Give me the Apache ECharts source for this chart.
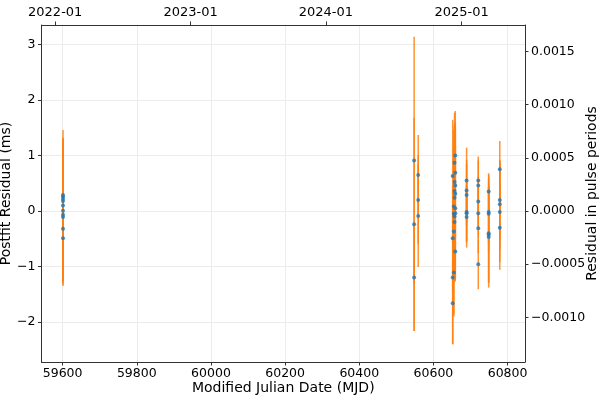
<!DOCTYPE html>
<html>
<head>
<meta charset="utf-8">
<script src="https://cdn.jsdelivr.net/npm/echarts@6/dist/echarts.min.js"></script>
<style>html,body{margin:0;padding:0;background:#fff}#c{width:600px;height:400px}</style>
</head>
<body>
<div id="c"></div>
<script>
// TOA epochs (MJD), postfit residuals (ms), uncertainties (ms)
const mjd = [
  59601,59601,59601,59601,59601,59601,59601,59601,59601,59601,
  60548,60548,60548,
  60559,60559,60559,
  60652,60652,60652,60652,
  60655,60655,60655,60655,
  60657,60657,60657,60657,60657,60657,
  60659,60659,60659,60659,60659,60659,60659,
  60689.5,60689.5,60689.5,60689.5,60689.5,60689.5,
  60721,60721,60721,60721,60721,60721,
  60749,60749,60749,60749,60749,60749,
  60779,60779,60779,60779,60779
];
const resid = [
  0.29,0.26,0.22,0.18,0.10,0.005,-0.07,-0.11,-0.32,-0.49,
  0.91,-0.24,-1.20,
  0.65,0.20,-0.09,
  0.63,-0.49,-1.20,-1.66,
  0.08,-0.05,-0.37,-1.11,
  0.87,0.52,0.36,0.24,-0.10,-0.20,
  1.00,0.69,0.46,0.31,0.05,-0.04,-0.73,
  0.55,0.37,0.29,-0.02,-0.04,-0.11,
  0.55,0.46,0.17,-0.04,-0.31,-0.96,
  0.35,-0.02,-0.05,-0.40,-0.43,-0.47,
  0.75,0.20,0.12,-0.02,-0.30
];
const err = [
  1.17,1.0,1.1,1.05,1.2,1.1,1.2,1.15,1.0,0.86,
  2.23,1.92,0.96,
  0.72,0.8,0.92,
  1.01,0.95,1.2,0.74,
  1.39,1.2,1.53,0.75,
  0.9,1.0,1.2,1.3,1.1,1.0,
  0.8,0.9,1.1,1.1,1.2,1.2,0.54,
  0.59,0.55,0.55,0.55,0.5,0.55,
  0.43,0.45,0.45,0.45,0.45,0.45,
  0.33,0.6,0.7,0.9,0.85,0.91,
  0.51,0.7,0.8,0.9,0.76
];
const periodMs = 1915; // pulse period (ms) for the right axis
const xTicks = [59600,59800,60000,60200,60400,60600,60800];
const dateTickMjd = [59580,59945,60310,60676];
const dateTickLabels = ['2022-01','2023-01','2024-01','2025-01'];
const yTicks = [-2,-1,0,1,2,3];
const yRightTicks = [-0.001,-0.0005,0,0.0005,0.001,0.0015];
const xMin = 59543, xMax = 60847, yMin = -2.72, yMax = 3.35;

const font = 'DejaVu Sans';
const minus = s => String(s).replace('-', '\u2212');
const ebData = mjd.map((m,i)=>[m, resid[i], err[i]]);
const ptData = mjd.map((m,i)=>[m, resid[i]]);

const spine = {show:true, onZero:false, lineStyle:{color:'#333', width:1}};
const tick = {show:true, inside:false, length:3.5, lineStyle:{color:'#333', width:1}};
const chart = echarts.init(document.getElementById('c'), null, {renderer:'canvas'});
chart.setOption({
  animation:false,
  backgroundColor:'#fff',
  grid:{left:41.5, right:75, top:25, bottom:38, containLabel:false, outerBoundsMode:'none'},
  xAxis:[
    {type:'value', position:'bottom', min:xMin, max:xMax,
     name:'Modified Julian Date (MJD)', nameLocation:'middle', nameGap:19, nameMoveOverlap:false,
     nameTextStyle:{fontFamily:font, fontSize:14, color:'#000'},
     axisLine:spine, axisTick:Object.assign({customValues:xTicks}, tick),
     axisLabel:{customValues:xTicks, fontFamily:font, fontSize:12.5, color:'#000', margin:5,
       formatter:v=>String(v)},
     splitLine:{show:true, lineStyle:{color:'#ececec', width:1}}},
    {type:'value', position:'top', min:xMin, max:xMax,
     axisLine:spine, axisTick:Object.assign({customValues:dateTickMjd}, tick),
     axisLabel:{customValues:dateTickMjd, fontFamily:font, fontSize:13, color:'#000', margin:6,
       formatter:v=>{const i=dateTickMjd.indexOf(v); return i>=0?dateTickLabels[i]:'';}},
     splitLine:{show:false}}
  ],
  yAxis:[
    {type:'value', position:'left', min:yMin, max:yMax,
     name:'Postfit Residual (ms)', nameLocation:'middle', nameGap:28, nameRotate:90, nameMoveOverlap:false,
     nameTextStyle:{fontFamily:font, fontSize:14, color:'#000'},
     axisLine:spine, axisTick:Object.assign({customValues:yTicks}, tick),
     axisLabel:{customValues:yTicks, fontFamily:font, fontSize:12.5, color:'#000', margin:6,
       formatter:v=>minus(v)},
     splitLine:{show:true, lineStyle:{color:'#ececec', width:1}}},
    {type:'value', position:'right', min:yMin/periodMs, max:yMax/periodMs,
     name:'Residual in pulse periods', nameLocation:'middle', nameGap:60, nameRotate:90, nameMoveOverlap:false,
     nameTextStyle:{fontFamily:font, fontSize:14, color:'#000'},
     axisLine:spine, axisTick:Object.assign({customValues:yRightTicks}, tick),
     axisLabel:{customValues:yRightTicks, fontFamily:font, fontSize:12.5, color:'#000', margin:6,
       formatter:v=>minus((Math.abs(v)<1e-12?0:v).toFixed(4))},
     splitLine:{show:false}}
  ],
  series:[
    {type:'custom', xAxisIndex:0, yAxisIndex:0, data:ebData, encode:{x:0,y:1}, z:2, clip:true,
     renderItem:(params, api)=>{
       const x=api.value(0), y=api.value(1), e=api.value(2);
       const p1=api.coord([x,y+e]), p2=api.coord([x,y-e]);
       return {type:'line', shape:{x1:p1[0],y1:p1[1],x2:p2[0],y2:p2[1]},
               style:{stroke:'#ff7f0e', lineWidth:1.5, opacity:0.85}};
     }},
    {type:'scatter', xAxisIndex:0, yAxisIndex:0, data:ptData, symbol:'circle', symbolSize:4,
     itemStyle:{color:'#1f77b4'}, z:3}
  ]
});
</script>
</body>
</html>
